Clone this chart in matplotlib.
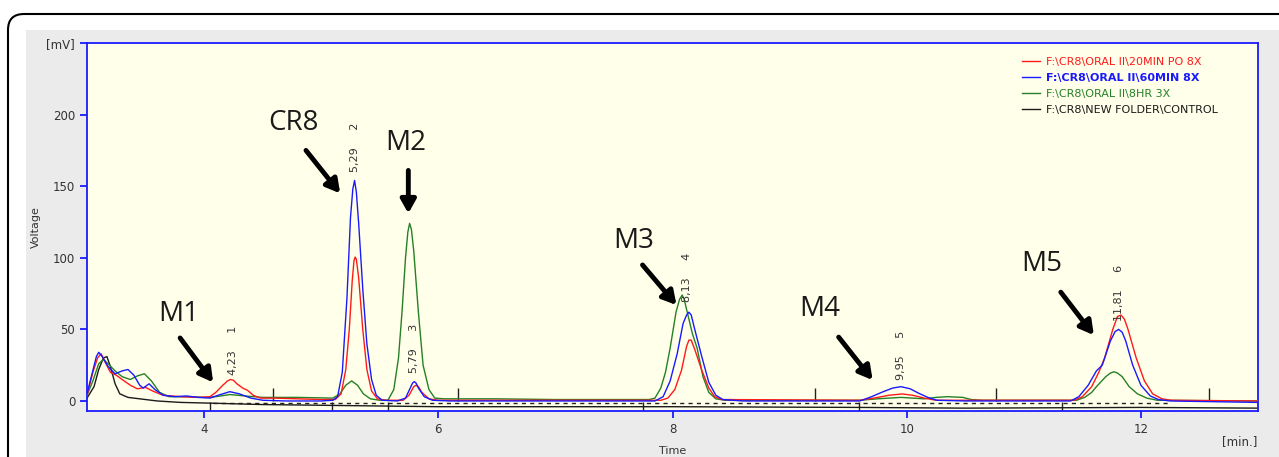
import matplotlib
matplotlib.use("Agg")
import matplotlib.pyplot as plt
from matplotlib.patches import FancyBboxPatch, Rectangle
from matplotlib.transforms import IdentityTransform

# ---- data (time in min, voltage in mV) ----
t_red = [3.00, 3.05, 3.09, 3.12, 3.15, 3.20, 3.25, 3.30, 3.37, 3.43, 3.50, 3.56, 3.65, 3.80, 3.95,
         4.05, 4.10, 4.16, 4.20, 4.225, 4.25, 4.28, 4.33, 4.37, 4.42, 4.48, 4.60, 4.80, 5.00, 5.12,
         5.17, 5.21, 5.24, 5.265, 5.28, 5.29, 5.30, 5.32, 5.355, 5.39, 5.43, 5.48, 5.55, 5.70, 5.75,
         5.79, 5.81, 5.83, 5.86, 5.92, 6.00, 7.90, 7.96, 8.02, 8.077, 8.12, 8.14, 8.16, 8.19, 8.25,
         8.31, 8.36, 8.42, 9.60, 9.72, 9.85, 9.96, 10.05, 10.15, 10.25, 11.43, 11.50, 11.58, 11.64,
         11.69, 11.76, 11.80, 11.83, 11.86, 11.89, 11.96, 12.03, 12.10, 12.18, 12.26, 13.00]
v_red = [4, 20, 30, 33, 28, 20, 18, 15, 11, 8.5, 9.5, 7, 4, 3, 2.5,
         3, 6, 11, 14, 15, 14.5, 12, 9, 7.5, 4, 2, 2, 1.5, 1, 1,
         5, 22, 50, 84, 98, 100.5, 99, 86, 50, 22, 7, 1.5, 0.5, 0.5, 4,
         10, 11, 10, 6, 1.5, 0.5, 0.5, 2, 8, 21.5, 38, 42.5, 42.5, 36, 21.5,
         9, 3, 1, 0.5, 2, 4, 4.9, 4, 2, 0.5, 0.5, 3, 10, 20,
         30, 50, 59, 60, 57, 50, 30, 14, 5, 1.5, 0.5, 0]

t_blue = [3.00, 3.04, 3.08, 3.10, 3.13, 3.18, 3.24, 3.30, 3.35, 3.40, 3.45, 3.48, 3.53, 3.58, 3.65,
          3.75, 3.85, 3.95, 4.05, 4.12, 4.22, 4.30, 4.40, 4.50, 4.70, 5.00, 5.10, 5.14, 5.18, 5.22,
          5.25, 5.27, 5.285, 5.30, 5.32, 5.356, 5.39, 5.43, 5.47, 5.52, 5.65, 5.72, 5.76, 5.78, 5.795,
          5.81, 5.83, 5.88, 5.95, 6.10, 7.85, 7.92, 7.98, 8.04, 8.09, 8.12, 8.14, 8.16, 8.19, 8.25,
          8.31, 8.37, 8.43, 8.60, 9.60, 9.70, 9.80, 9.88, 9.95, 10.03, 10.10, 10.18, 10.26, 10.50,
          11.40, 11.47, 11.55, 11.62, 11.67, 11.74, 11.78, 11.81, 11.84, 11.87, 11.93, 12.00, 12.08,
          12.15, 12.25, 13.00]
v_blue = [5, 18, 31, 34, 31, 24, 19, 21, 22, 18, 11, 9, 12, 8, 4,
          3, 3.5, 2.5, 2, 4, 6.5, 5, 2, 0.5, 0, 0, 0.5, 3, 20, 72,
          128, 148, 154, 146, 124, 77, 40, 15, 4, 0.5, 0, 2, 9, 12.5, 13.5,
          12.5, 9, 3, 0.5, 0, 0, 3, 14, 33, 54, 60, 62, 60, 50, 31,
          13, 4, 1, 0, 0, 3, 6.5, 9, 10, 8.5, 5.5, 2.5, 0.5, 0,
          0, 3, 11, 21, 25, 42, 48.5, 50, 48, 42, 25, 11, 3.5,
          1, 0, -1]

t_green = [3.00, 3.05, 3.10, 3.14, 3.18, 3.24, 3.30, 3.37, 3.43, 3.49, 3.55, 3.62, 3.70, 3.85, 4.00,
           4.10, 4.22, 4.35, 4.50, 4.80, 5.10, 5.16, 5.21, 5.26, 5.31, 5.36, 5.42, 5.50, 5.57, 5.62,
           5.66, 5.69, 5.72, 5.74, 5.755, 5.77, 5.79, 5.83, 5.87, 5.92, 5.97, 6.05, 6.50, 7.00, 7.80,
           7.85, 7.90, 7.94, 7.98, 8.03, 8.06, 8.083, 8.10, 8.12, 8.17, 8.21, 8.26, 8.31, 8.37, 8.45,
           9.60, 9.75, 9.95, 10.15, 10.25, 10.35, 10.48, 10.55, 10.65, 11.45, 11.52, 11.58, 11.62,
           11.70, 11.74, 11.77, 11.80, 11.84, 11.90, 11.97, 12.05, 12.14, 13.00]
v_green = [4, 14, 26, 29, 26, 21, 17, 15, 17.5, 19, 14, 6, 3, 3, 2.5,
           3, 4.5, 3.5, 2.5, 2.5, 2, 5, 11, 14, 11, 5, 1.5, 0.5, 0.5, 8,
           30, 62, 100, 118, 124, 120, 105, 62, 25, 8, 2, 1.5, 1.5, 1, 1,
           2, 9, 20, 37, 62, 71, 74, 71, 64, 47, 37, 17, 6, 1.5, 0.5,
           0.5, 1.5, 2.5, 1.5, 2.5, 3, 2.5, 1, 0.5, 0.5, 2.5, 6, 10,
           17, 19.5, 20.4, 19.5, 17, 10, 5, 2, 0.5, 0]

t_black = [3.00, 3.06, 3.10, 3.14, 3.17, 3.20, 3.24, 3.28, 3.35, 3.45, 3.60, 3.80, 4.05, 4.50, 5.00,
           5.50, 6.00, 8.00, 9.60, 10.50, 12.00, 13.00]
v_black = [2, 10, 22, 30, 31, 24, 12, 5, 2.5, 1.5, 0, -1, -1.5, -2.5, -3,
           -3.5, -4, -4, -4.5, -5, -4.5, -5]

# integration baseline and peak markers
base_t = [4.08, 12.25]
base_v = [-1.5, -1.5]
marks_up = [4.59, 6.17, 9.22, 10.76, 12.58]
marks_down = [4.05, 5.09, 5.57, 7.75, 9.59, 11.33]

# peak labels: retention time, peak number, where the label sits
peak_rt = ["4,23", "5,29", "5,79", "8,13", "9,95", "11,81"]
peak_no = ["1", "2", "3", "4", "5", "6"]
peak_lbl_t = [4.25, 5.29, 5.79, 8.12, 9.95, 11.81]
peak_lbl_v = [18, 160, 19.5, 69, 14.6, 56]

# compound annotations: name, text position, arrow start, arrow tip
names = ["M1", "CR8", "M2", "M3", "M4", "M5"]
name_xy = [(3.786, 61), (4.76, 194), (5.726, 180), (7.667, 112), (9.256, 64), (11.154, 95.5)]
arrow_from = [(3.795, 44), (4.87, 175), (5.744, 161), (7.744, 95), (9.419, 44.6), (11.316, 76)]
arrow_to = [(4.077, 13), (5.162, 145), (5.744, 131), (8.034, 67), (9.709, 14.6), (11.598, 46)]

labels = [r"F:\CR8\ORAL II\20MIN PO 8X", r"F:\CR8\ORAL II\60MIN 8X",
          r"F:\CR8\ORAL II\8HR 3X", r"F:\CR8\NEW FOLDER\CONTROL"]
colors = ["#ff1a1a", "#1a1aff", "#268026", "#1a1a1a"]

fig = plt.figure(figsize=(12.79, 4.57), dpi=100)
fig.patch.set_facecolor("white")

# outer rounded frame and grey panel
frame = FancyBboxPatch((8, -30), 1320, 457 - 14 + 30, boxstyle="round,pad=0,rounding_size=16",
                       transform=IdentityTransform(), fc="white", ec="black", lw=1.5, zorder=-2)
fig.patches.append(frame)
panel = Rectangle((26, -20), 1320, 457 - 30 + 20, transform=IdentityTransform(),
                  fc="#ebebeb", ec="none", zorder=-1)
fig.patches.append(panel)

ax = fig.add_axes([87 / 1279, 46 / 457, 1171 / 1279, 368 / 457])
ax.set_facecolor("#ffffea")

ax.plot(t_black, v_black, color=colors[3], lw=1.0, label=labels[3], zorder=2)
ax.plot(t_green, v_green, color=colors[2], lw=1.0, label=labels[2], zorder=3)
ax.plot(t_red, v_red, color=colors[0], lw=1.0, label=labels[0], zorder=4)
ax.plot(t_blue, v_blue, color=colors[1], lw=1.0, label=labels[1], zorder=5)

ax.plot(base_t, base_v, color="#222222", lw=1.0, ls=(0, (3, 3)), zorder=1.5)
ax.vlines(marks_up, 0, 9, color="#222222", lw=1.0, zorder=1.5)
ax.vlines(marks_down, -1, -7, color="#222222", lw=1.0, zorder=1.5)

for rt, n, x, y in zip(peak_rt, peak_no, peak_lbl_t, peak_lbl_v):
    ax.text(x, y, rt + "     " + n, rotation=90, ha="center", va="bottom",
            fontsize=8, color="#333333", zorder=6)

for name, xy, a0, a1 in zip(names, name_xy, arrow_from, arrow_to):
    ax.text(xy[0], xy[1], name, ha="center", va="center", fontsize=20,
            family="Open Sans", color="#1a1a1a", zorder=7)
    ax.annotate("", xy=a1, xytext=a0,
                arrowprops=dict(arrowstyle="-|>,head_length=0.8,head_width=0.45",
                                lw=3.5, color="black", shrinkA=0, shrinkB=0), zorder=7)

ax.set_xlim(3, 13)
ax.set_ylim(-7, 250)
ax.set_xticks([4, 6, 8, 10, 12])
ax.set_yticks([0, 50, 100, 150, 200, 250])
ax.set_yticklabels(["0", "50", "100", "150", "200", "[mV]"])
for s in ax.spines.values():
    s.set_color("#1a1aff")
    s.set_linewidth(1.3)
ax.tick_params(colors="#1a1aff", labelcolor="#333333", labelsize=8.5, length=5, width=1.3)

ax.set_xlabel("Time", fontsize=8, color="#333333", labelpad=7)
ax.set_ylabel("Voltage", fontsize=8, color="#333333", labelpad=4)
fig.text(1240 / 1279, 1 - 442 / 457, "[min.]", fontsize=8.5, color="#333333",
         ha="center", va="center")

leg = ax.legend(handles=[ax.lines[2], ax.lines[3], ax.lines[1], ax.lines[0]],
                labels=[labels[0], labels[1], labels[2], labels[3]],
                loc="upper left", bbox_to_anchor=(0.795, 0.975), frameon=False,
                fontsize=8, handlelength=1.6, handletextpad=0.5, labelspacing=0.55,
                labelcolor="linecolor", borderaxespad=0)
leg.get_texts()[1].set_fontweight("bold")

fig.savefig("out.png", dpi=100)
